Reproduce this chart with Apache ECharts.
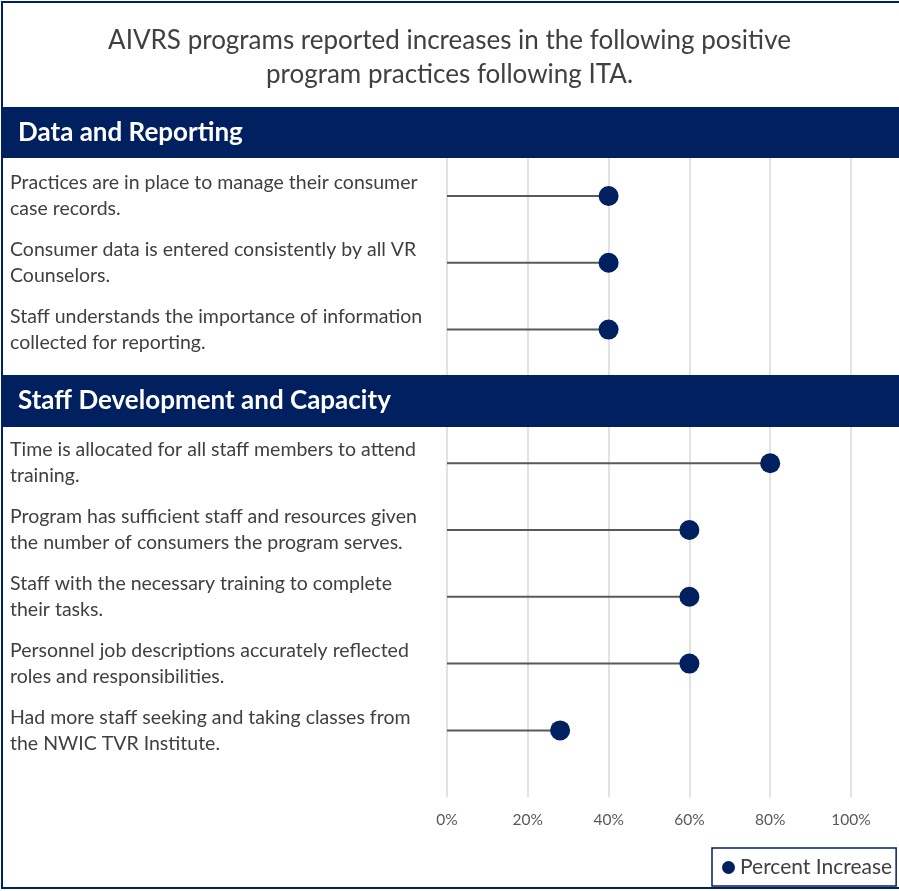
<!DOCTYPE html>
<html>
<head>
<meta charset="utf-8">
<script src="https://cdn.jsdelivr.net/npm/echarts@6/dist/echarts.min.js"></script>
<style>
html,body{margin:0;padding:0;background:#fff;}
#chart{width:899px;height:891px;}
</style>
</head>
<body>
<div id="chart"></div>
<script>
// ---- data ----
const titleText = 'AIVRS programs reported increases in the following positive\nprogram practices following ITA.';
const sectionNames = ['Data and Reporting', 'Staff Development and Capacity'];
const dataReportingLabels = [
  'Practices are in place to manage their consumer\ncase records.',
  'Consumer data is entered consistently by all VR\nCounselors.',
  'Staff understands the importance of information\ncollected for reporting.'
];
const dataReportingValues = [0.40, 0.40, 0.40];
const staffDevLabels = [
  'Time is allocated for all staff members to attend\ntraining.',
  'Program has sufficient staff and resources given\nthe number of consumers the program serves.',
  'Staff with the necessary training to complete\ntheir tasks.',
  'Personnel job descriptions accurately reflected\nroles and responsibilities.',
  'Had more staff seeking and taking classes from\nthe NWIC TVR Institute.'
];
const staffDevValues = [0.80, 0.60, 0.60, 0.60, 0.28];
const xTicks = [0, 0.2, 0.4, 0.6, 0.8, 1.0];
const seriesName = 'Percent Increase';

// build category list with spacer slots for section headers
const cats = [' 0'].concat(dataReportingLabels, [' 1'], staffDevLabels, [' 2']);
const vals = [null].concat(dataReportingValues, [null], staffDevValues, [null]);

const navy = '#002060';
const font = 'Lato';

const chart = echarts.init(document.getElementById('chart'));
chart.setOption({
  animation: false,
  backgroundColor: '#ffffff',
  textStyle: { fontFamily: font },
  title: {
    text: titleText,
    left: 'center',
    top: 19,
    textStyle: { fontFamily: font, fontSize: 26, fontWeight: 'normal', color: '#404040', lineHeight: 34 }
  },
  legend: {
    data: [seriesName],
    left: 712,
    top: 848,
    icon: 'circle',
    itemWidth: 13,
    itemHeight: 13,
    itemGap: 6,
    borderColor: navy,
    borderWidth: 1.5,
    borderRadius: 0,
    padding: [9, 4, 8, 10],
    textStyle: { fontFamily: font, fontSize: 21, color: '#404040' }
  },
  grid: { left: 447, right: 48, top: 129.2, height: 668, containLabel: false },
  xAxis: {
    type: 'value',
    min: xTicks[0],
    max: xTicks[xTicks.length - 1],
    interval: 0.2,
    axisLine: { show: false },
    axisTick: { show: false },
    splitLine: { show: true, lineStyle: { color: '#d9d9d9', width: 1.5 } },
    axisLabel: {
      margin: 15,
      fontSize: 15.5,
      color: '#595959',
      fontFamily: font,
      formatter: v => Math.round(v * 100) + '%'
    }
  },
  yAxis: {
    type: 'category',
    data: cats,
    inverse: true,
    boundaryGap: false,
    axisLine: { show: false },
    axisTick: { show: false },
    splitLine: { show: false },
    axisLabel: {
      align: 'left',
      margin: 437,
      fontSize: 19.5,
      lineHeight: 26,
      color: '#404040',
      fontFamily: font,
      interval: 0,
      formatter: v => (v.charAt(0) === ' ' ? '' : v)
    }
  },
  series: [
    {
      name: 'stem',
      type: 'bar',
      data: vals,
      barWidth: 2,
      itemStyle: { color: '#595959' },
      z: 2
    },
    {
      name: seriesName,
      type: 'scatter',
      data: vals,
      symbol: 'circle',
      symbolSize: 20,
      itemStyle: { color: navy, opacity: 1 },
      z: 3
    }
  ],
  graphic: [
    { type: 'rect', z: 100, shape: { x: 3, y: 107, width: 900, height: 51 }, style: { fill: navy } },
    { type: 'text', z: 101, left: 18, top: 120, style: { text: sectionNames[0], fill: '#ffffff', font: 'bold 26px Lato' } },
    { type: 'rect', z: 100, shape: { x: 3, y: 375, width: 900, height: 52 }, style: { fill: navy } },
    { type: 'text', z: 101, left: 18, top: 388, style: { text: sectionNames[1], fill: '#ffffff', font: 'bold 26px Lato' } },
    { type: 'rect', z: 102, shape: { x: 2, y: 2, width: 910, height: 886 }, style: { fill: 'none', stroke: navy, lineWidth: 2 } }
  ]
});
</script>
</body>
</html>
